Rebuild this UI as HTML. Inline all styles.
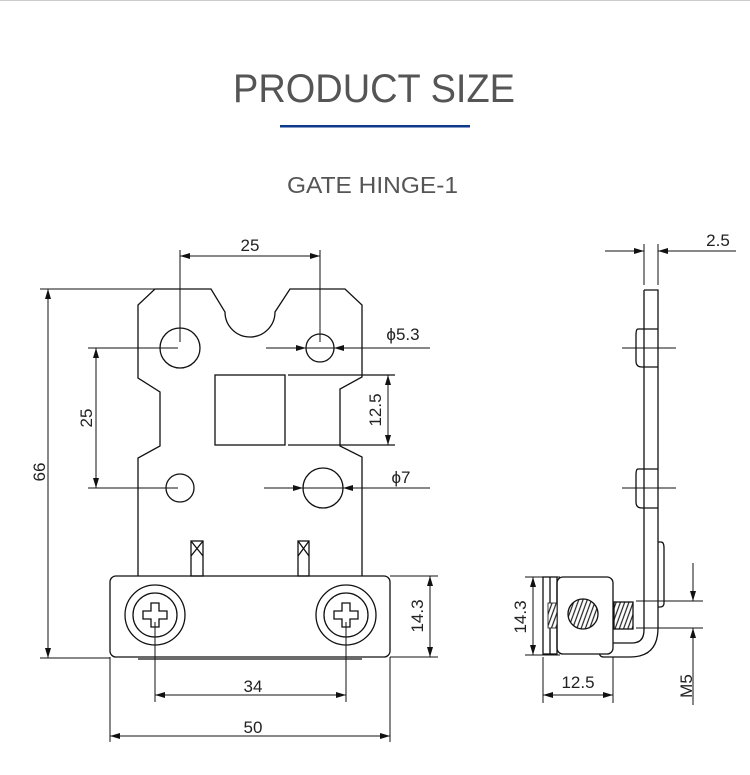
<!DOCTYPE html>
<html><head><meta charset="utf-8"><style>
html,body{margin:0;padding:0;background:#fff;width:750px;height:775px;overflow:hidden}
svg{display:block}
</style></head><body>
<svg width="750" height="775" viewBox="0 0 750 775" xmlns="http://www.w3.org/2000/svg" font-family="Liberation Sans, sans-serif">
<defs>
<marker id="a" viewBox="0 0 10 6" refX="10" refY="3" markerWidth="11" markerHeight="6" orient="auto-start-reverse" markerUnits="userSpaceOnUse"><path d="M0,0L10,3L0,6z" fill="#111"/></marker>
<pattern id="h" width="4" height="4" patternUnits="userSpaceOnUse" patternTransform="rotate(20)"><rect width="4" height="4" fill="#fff"/><line x1="1" y1="0" x2="1" y2="4" stroke="#222" stroke-width="1.2"/></pattern>
</defs>
<line x1="0" y1="0.5" x2="750" y2="0.5" stroke="#ccc"/>
<text x="233" y="102" font-size="40" fill="#555" textLength="282" lengthAdjust="spacingAndGlyphs">PRODUCT SIZE</text>
<rect x="280" y="125" width="190" height="2.5" fill="#0d3a8a"/>
<text x="287" y="193" font-size="23" fill="#555" textLength="171" lengthAdjust="spacingAndGlyphs">GATE HINGE-1</text>

<g fill="none" stroke="#111" stroke-width="1.3">
<path d="M138,576 V458 L160,446 V392 L138,378 V305 L155,289 H211 L225,312 A25,25 0 0 0 275,312 L290,289 H345 L362,305 V377 L340,389 V446 L362,457 V576"/>
<circle cx="180" cy="348" r="20"/>
<circle cx="320" cy="348" r="14"/>
<circle cx="180" cy="488" r="14"/>
<circle cx="323" cy="488" r="20"/>
<rect x="215" y="375" width="70" height="70"/>
<line x1="288" y1="375" x2="395" y2="375"/>
<line x1="288" y1="445" x2="395" y2="445"/>
<rect x="191" y="541" width="12" height="35"/>
<path d="M191,541 L203,556 M203,541 L191,556"/>
<rect x="298" y="541" width="11" height="35"/>
<path d="M298,541 L309,556 M309,541 L298,556"/>
<rect x="110" y="576" width="280" height="81" rx="6"/>
<line x1="138" y1="659" x2="362" y2="659"/>
<circle cx="155" cy="615" r="30"/><circle cx="155" cy="615" r="22"/>
<path d="M151,603 h8 v8 h8 v8 h-8 v8 h-8 v-8 h-8 v-8 h8z"/>
<circle cx="346" cy="615" r="30"/><circle cx="346" cy="615" r="22"/>
<path d="M342,603 h8 v8 h8 v8 h-8 v8 h-8 v-8 h-8 v-8 h8z"/>
</g>

<g fill="none" stroke="#111" stroke-width="1">
<line x1="180" y1="250" x2="180" y2="342"/><line x1="320" y1="250" x2="320" y2="342"/>
<line x1="180" y1="256" x2="320" y2="256" marker-start="url(#a)" marker-end="url(#a)"/>
<line x1="40" y1="289" x2="155" y2="289"/><line x1="40" y1="658" x2="110" y2="658"/>
<line x1="48" y1="289" x2="48" y2="658" marker-start="url(#a)" marker-end="url(#a)"/>
<line x1="88" y1="348" x2="178" y2="348"/><line x1="88" y1="488" x2="178" y2="488"/>
<line x1="96" y1="348" x2="96" y2="488" marker-start="url(#a)" marker-end="url(#a)"/>
<line x1="266" y1="348" x2="306" y2="348" marker-end="url(#a)"/>
<line x1="430" y1="348" x2="334" y2="348" marker-end="url(#a)"/>
<line x1="306" y1="348" x2="334" y2="348"/>
<line x1="388" y1="375" x2="388" y2="445" marker-start="url(#a)" marker-end="url(#a)"/>
<line x1="264" y1="488" x2="303" y2="488" marker-end="url(#a)"/>
<line x1="430" y1="488" x2="343" y2="488" marker-end="url(#a)"/>
<line x1="303" y1="488" x2="343" y2="488"/>
<line x1="390" y1="576" x2="438" y2="576"/><line x1="390" y1="657" x2="438" y2="657"/>
<line x1="430" y1="576" x2="430" y2="657" marker-start="url(#a)" marker-end="url(#a)"/>
<line x1="155" y1="622" x2="155" y2="702"/><line x1="346" y1="622" x2="346" y2="702"/>
<line x1="155" y1="695" x2="346" y2="695" marker-start="url(#a)" marker-end="url(#a)"/>
<line x1="110" y1="657" x2="110" y2="742"/><line x1="390" y1="657" x2="390" y2="742"/>
<line x1="110" y1="736" x2="390" y2="736" marker-start="url(#a)" marker-end="url(#a)"/>
</g>
<g font-size="17" fill="#222" text-anchor="middle">
<text x="250" y="251">25</text>
<text x="45" y="472" transform="rotate(-90 45 472)">66</text>
<text x="92" y="418" transform="rotate(-90 92 418)">25</text>
<text x="403" y="340">ϕ5.3</text>
<text x="381" y="410" transform="rotate(-90 381 410)">12.5</text>
<text x="401" y="483">ϕ7</text>
<text x="423" y="616" transform="rotate(-90 423 616)">14.3</text>
<text x="253" y="692">34</text>
<text x="253" y="733">50</text>
<text x="718" y="246">2.5</text>
<text x="526" y="617" transform="rotate(-90 526 617)">14.3</text>
<text x="578" y="688">12.5</text>
<text x="692" y="686" transform="rotate(-90 692 686)">M5</text>
</g>

<g fill="none" stroke="#111" stroke-width="1.3">
<path d="M644,290 H658 V628 Q658,657 630,657 H604 Q598,657 600,650"/>
<path d="M644,290 V630 Q644,643 632,643 H613"/>
<path d="M644,329 H638 Q636,329 636,335 V361 Q636,367 642,367 H658 M644,329 H658"/>
<path d="M644,469 H638 Q636,469 636,475 V502 Q636,508 642,508 H658 M644,469 H658"/>
<path d="M658,542 H661 Q664,542 664,548 V603 Q664,607 660,607 H658"/>
<rect x="557" y="577" width="56" height="77" rx="6" fill="#fff"/>
<rect x="543" y="577" width="14" height="77"/>
<line x1="550" y1="577" x2="550" y2="654"/>
<circle cx="583" cy="614" r="15" fill="url(#h)"/>
<rect x="614" y="602" width="19" height="27" fill="url(#h)"/>
<rect x="548" y="603" width="9" height="25" fill="url(#h)" stroke-width="0.8"/>
</g>
<g fill="none" stroke="#111" stroke-width="1">
<line x1="622" y1="348" x2="676" y2="348"/><line x1="622" y1="488" x2="676" y2="488"/>
<line x1="644" y1="244" x2="644" y2="285"/><line x1="658" y1="244" x2="658" y2="285"/>
<line x1="605" y1="251" x2="644" y2="251" marker-end="url(#a)"/>
<line x1="736" y1="251" x2="658" y2="251" marker-end="url(#a)"/>
<line x1="525" y1="577" x2="560" y2="577"/><line x1="525" y1="655" x2="560" y2="655"/>
<line x1="533" y1="577" x2="533" y2="655" marker-start="url(#a)" marker-end="url(#a)"/>
<line x1="543" y1="657" x2="543" y2="703"/><line x1="613" y1="657" x2="613" y2="703"/>
<line x1="543" y1="695" x2="613" y2="695" marker-start="url(#a)" marker-end="url(#a)"/>
<line x1="636" y1="601" x2="703" y2="601"/><line x1="636" y1="628" x2="703" y2="628"/>
<line x1="693" y1="563" x2="693" y2="601" marker-end="url(#a)"/>
<line x1="693" y1="705" x2="693" y2="628" marker-end="url(#a)"/>
</g>
</svg>
</body></html>
